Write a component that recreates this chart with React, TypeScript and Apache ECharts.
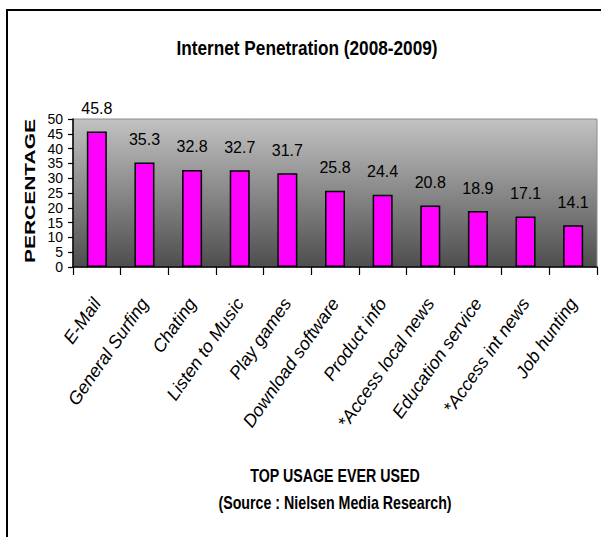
import React, { useEffect, useRef } from "react";
import * as echarts from "echarts";

const categories = [
  "E-Mail",
  "General Surfing",
  "Chating",
  "Listen to Music",
  "Play games",
  "Download software",
  "Product info",
  "*Access local news",
  "Education service",
  "*Access int news",
  "Job hunting",
];
const percentages = [45.8, 35.3, 32.8, 32.7, 31.7, 25.8, 24.4, 20.8, 18.9, 17.1, 14.1];
const titleText = "Internet Penetration (2008-2009)";
const yAxisName = "PERCENTAGE";
const xAxisName = "TOP USAGE EVER USED";
const sourceText = "(Source : Nielsen Media Research)";

const ARIAL = "'Liberation Sans', Arial, sans-serif";

export default function App() {
  const ref = useRef<HTMLDivElement>(null);
  useEffect(() => {
    if (!ref.current) return;
    const chart = echarts.init(ref.current, null, { renderer: "svg" });
    chart.setOption({
      animation: false,
      backgroundColor: "#ffffff",
      grid: {
        left: 73,
        right: 4,
        top: 119,
        bottom: 270,
        show: true,
        borderColor: "#8a8a8a",
        borderWidth: 1,
        backgroundColor: new echarts.graphic.LinearGradient(0, 0, 0, 1, [
          { offset: 0, color: "#c2c2c2" },
          { offset: 1, color: "#4e4e4e" },
        ]),
      },
      xAxis: {
        type: "category",
        data: categories,
        axisLine: { lineStyle: { color: "#000", width: 1.5 } },
        axisTick: { show: true, length: 8, lineStyle: { color: "#000", width: 1.2 } },
        axisLabel: {
          rotate: 55,
          interval: 0,
          margin: 33,
          color: "#000",
          fontSize: 18,
          fontStyle: "italic",
          fontFamily: ARIAL,
        },
      },
      yAxis: {
        type: "value",
        min: 0,
        max: 50,
        interval: 5,
        axisLine: { show: true, lineStyle: { color: "#000", width: 1.5 } },
        axisTick: { show: true, length: 5, lineStyle: { color: "#000", width: 1.2 } },
        splitLine: { show: false },
        axisLabel: {
          margin: 10,
          color: "#000",
          fontSize: 14,
          lineHeight: 14,
          hideOverlap: false,
          fontFamily: ARIAL,
        },
      },
      series: [
        {
          type: "bar",
          data: percentages,
          barWidth: 20,
          itemStyle: { color: "#ff00ff", borderColor: "#000", borderWidth: 1.5 },
          label: {
            show: true,
            position: "top",
            distance: 15,
            color: "#000",
            fontSize: 16,
            fontFamily: ARIAL,
          },
        },
      ],
      graphic: [
        {
          type: "rect",
          shape: { x: 7, y: 10, width: 620, height: 600 },
          style: { fill: "none", stroke: "#000", lineWidth: 2 },
          silent: true,
        },
        {
          type: "text",
          x: 307,
          y: 48,
          scaleX: 0.82,
          style: {
            text: titleText,
            fill: "#000",
            font: `bold 21px ${ARIAL}`,
            align: "center",
            verticalAlign: "middle",
          },
        },
        {
          type: "text",
          x: 30,
          y: 191,
          rotation: Math.PI / 2,
          scaleX: 1.5,
          style: {
            text: yAxisName,
            fill: "#000",
            font: `bold 14px ${ARIAL}`,
            align: "center",
            verticalAlign: "middle",
          },
        },
        {
          type: "text",
          x: 335,
          y: 475,
          scaleX: 0.79,
          style: {
            text: xAxisName,
            fill: "#000",
            font: `bold 18px ${ARIAL}`,
            align: "center",
            verticalAlign: "middle",
          },
        },
        {
          type: "text",
          x: 335,
          y: 502,
          scaleX: 0.79,
          style: {
            text: sourceText,
            fill: "#000",
            font: `bold 18px ${ARIAL}`,
            align: "center",
            verticalAlign: "middle",
          },
        },
      ],
    });
    return () => chart.dispose();
  }, []);
  return (
    <div
      ref={ref}
      style={{ position: "fixed", left: 0, top: 0, width: 601, height: 537 }}
    />
  );
}
